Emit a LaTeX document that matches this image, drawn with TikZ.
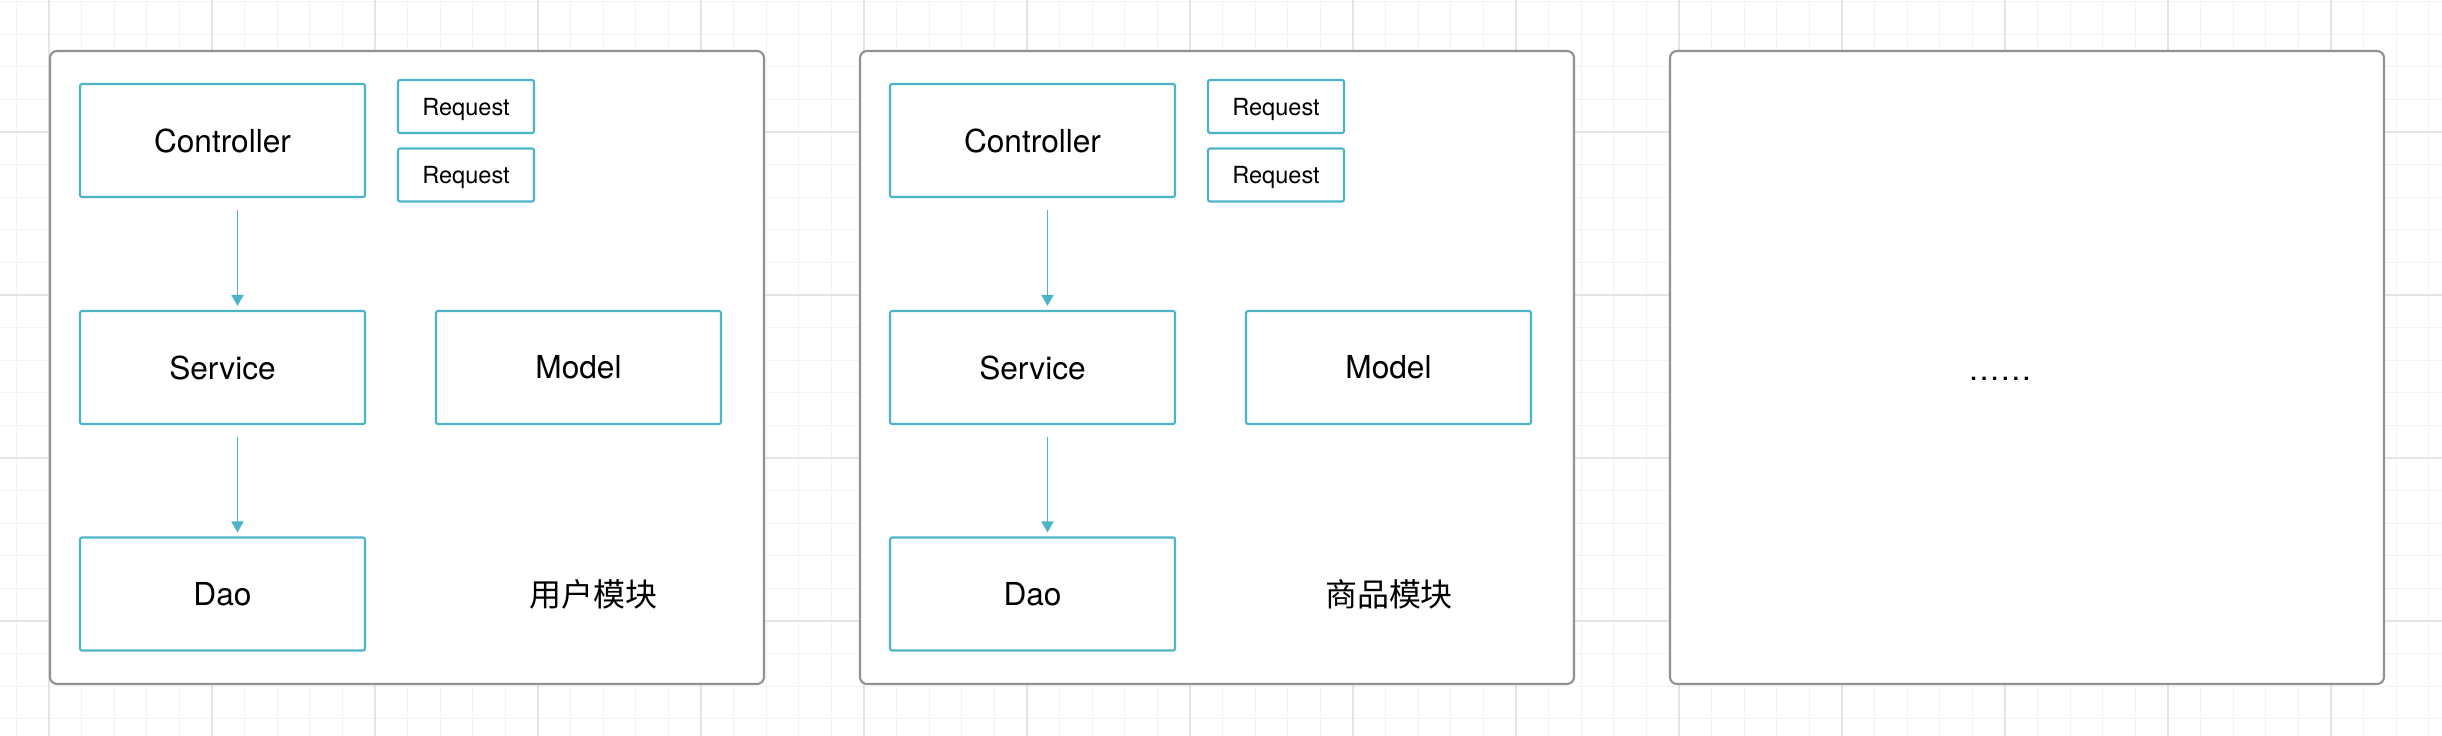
\documentclass[tikz,border=0pt]{standalone}
\usepackage{fontspec}
\setmainfont{TeX Gyre Heros}
\newfontfamily\cjk{Noto Sans CJK SC}
\usepackage{tikz}
\usetikzlibrary{arrows.meta}
\usetikzlibrary{positioning}
\definecolor{gridminor}{RGB}{243,243,243}
\definecolor{gridmajor}{RGB}{228,228,228}
\definecolor{modgray}{RGB}{145,145,145}
\definecolor{teal}{RGB}{76,180,201}

\begin{document}
\begin{tikzpicture}[x=0.1mm,y=-0.1mm,
  modbox/.style={draw=modgray,fill=white,line width=0.6pt,rounded corners=0.7mm,minimum width=71.4mm,minimum height=63.3mm},
  partbox/.style={draw=teal,fill=white,line width=0.6pt,rounded corners=0.2mm,minimum width=28.5mm,minimum height=11.3mm,font=\fontsize{9}{10}\selectfont},
  reqbox/.style={draw=teal,fill=white,line width=0.6pt,rounded corners=0.2mm,minimum width=13.6mm,minimum height=5.3mm,text depth=0pt,font=\fontsize{6.7}{8}\selectfont},
  flow/.style={draw=teal,line width=0.55pt,-{Triangle[width=1.2mm,length=1.1mm]}}]
\useasboundingbox (0,0) rectangle (2442,736);
\fill[white] (0,0) rectangle (2442,736);
\foreach \i in {0,...,74} \draw[gridminor,line width=0.3pt] ({16.4+32.6*\i},0) -- ({16.4+32.6*\i},736);
\foreach \j in {0,...,22} \draw[gridminor,line width=0.3pt] (0,{1.6+32.6*\j}) -- (2442,{1.6+32.6*\j});
\foreach \i in {0,...,14} \draw[gridmajor,line width=0.45pt] ({49+163*\i},0) -- ({49+163*\i},736);
\foreach \j in {0,...,3} \draw[gridmajor,line width=0.45pt] (0,{132+163*\j}) -- (2442,{132+163*\j});

\node[modbox] (mod1) at (407,367.5) {};
\node[modbox] (mod2) at (1217,367.5) {};
\node[modbox] (mod3) at (2027,367.5) {};

\node[partbox] (ctrl1) at (222.5,140.5) {Controller};
\node[partbox] (srv1) at (222.5,367.5) {Service};
\node[partbox] (dao1) at (222.5,594) {Dao};
\node[partbox] (model1) at (578.5,367.5) {Model};
\node[reqbox] (reqa1) at (466,106.5) {Request};
\node[reqbox] (reqb1) at (466,175) {Request};
\node[font=\cjk\fontsize{9.1}{10}\selectfont] (name1) at (593.5,594) {用户模块};
\draw[flow] ([xshift=1.5mm,yshift=-1.2mm]ctrl1.south) -- ([xshift=1.5mm,yshift=0.4mm]srv1.north);
\draw[flow] ([xshift=1.5mm,yshift=-1.2mm]srv1.south) -- ([xshift=1.5mm,yshift=0.4mm]dao1.north);

\node[partbox] (ctrl2) at (1032.5,140.5) {Controller};
\node[partbox] (srv2) at (1032.5,367.5) {Service};
\node[partbox] (dao2) at (1032.5,594) {Dao};
\node[partbox] (model2) at (1388.5,367.5) {Model};
\node[reqbox] (reqa2) at (1276,106.5) {Request};
\node[reqbox] (reqb2) at (1276,175) {Request};
\node[font=\cjk\fontsize{9.1}{10}\selectfont] (name2) at (1389,594) {商品模块};
\draw[flow] ([xshift=1.5mm,yshift=-1.2mm]ctrl2.south) -- ([xshift=1.5mm,yshift=0.4mm]srv2.north);
\draw[flow] ([xshift=1.5mm,yshift=-1.2mm]srv2.south) -- ([xshift=1.5mm,yshift=0.4mm]dao2.north);

\node[font=\fontsize{9}{10}\selectfont,anchor=base] (more3) at (2000,381) {……};
\end{tikzpicture}
\end{document}
